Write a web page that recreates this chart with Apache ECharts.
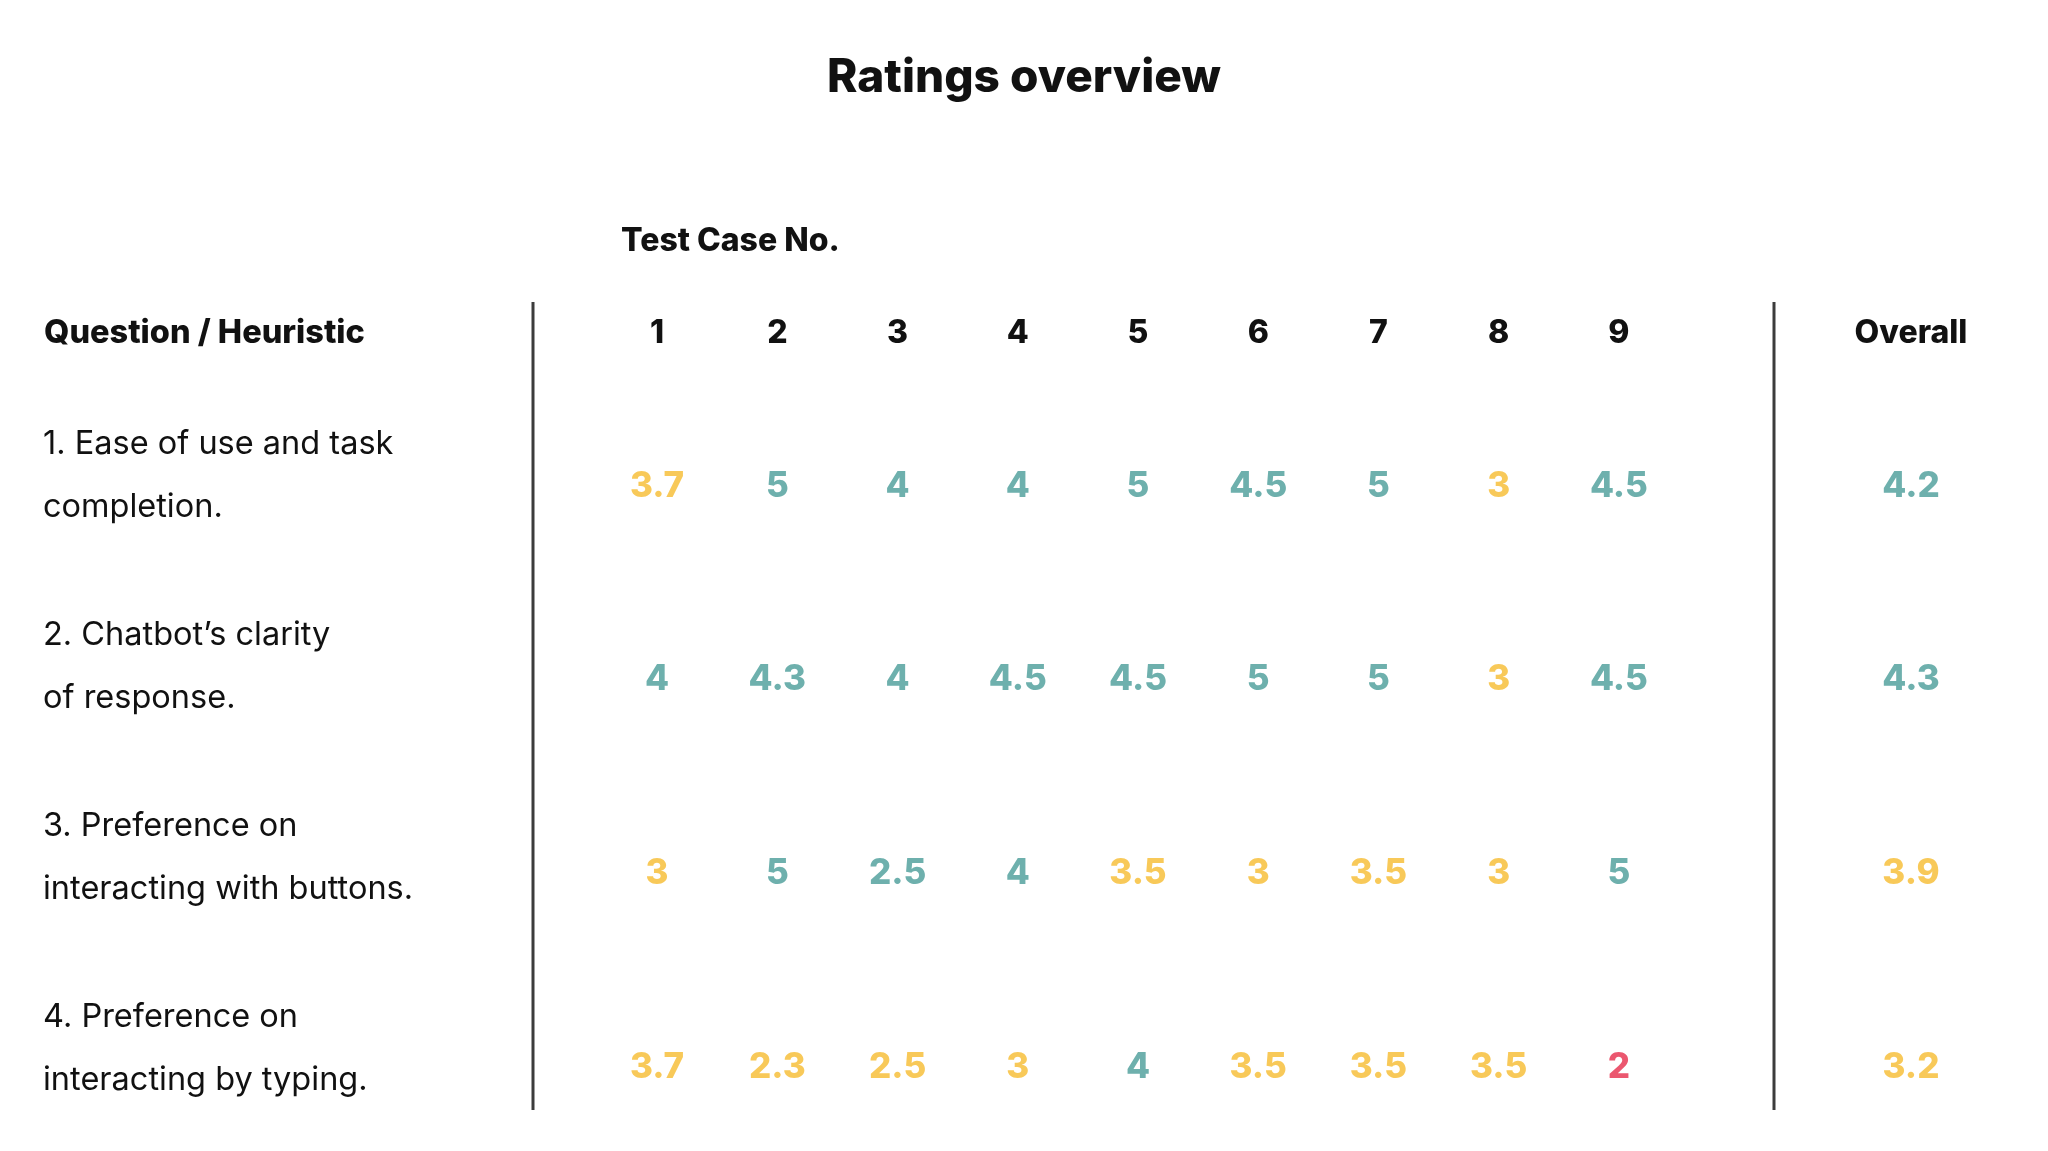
<!DOCTYPE html>
<html>
<head>
<meta charset="utf-8">
<title>Ratings overview</title>
<script src="https://cdn.jsdelivr.net/npm/echarts@6/dist/echarts.min.js"></script>
<style>
  html, body { margin: 0; padding: 0; background: #fff; }
  #chart { width: 2048px; height: 1151px; }
</style>
</head>
<body>
<div id="chart"></div>
<script>
// test case columns and question rows
var testCases = ['1', '2', '3', '4', '5', '6', '7', '8', '9'];
var questions = [
    '1. Ease of use and task\ncompletion.',
    '2. Chatbot\u2019s clarity\nof response.',
    '3. Preference on\ninteracting with buttons.',
    '4. Preference on\ninteracting by typing.'
];

// ratings per question, one value per test case
var easeOfUse = [3.7, 5, 4, 4, 5, 4.5, 5, 3, 4.5];
var clarity = [4, 4.3, 4, 4.5, 4.5, 5, 5, 3, 4.5];
var buttons = [3, 5, 2.5, 4, 3.5, 3, 3.5, 3, 5];
var typing = [3.7, 2.3, 2.5, 3, 4, 3.5, 3.5, 3.5, 2];
var overall = [4.2, 4.3, 3.9, 3.2];

// grade of each rating as marked in the table (G good, F fair, P poor)
var easeGrade = ['F', 'G', 'G', 'G', 'G', 'G', 'G', 'F', 'G'];
var clarityGrade = ['G', 'G', 'G', 'G', 'G', 'G', 'G', 'F', 'G'];
var buttonsGrade = ['F', 'G', 'G', 'G', 'F', 'F', 'F', 'F', 'G'];
var typingGrade = ['F', 'F', 'F', 'F', 'G', 'F', 'F', 'F', 'P'];
var overallGrade = ['G', 'G', 'F', 'F'];

var gradeColor = { G: '#4a9c98', F: '#f6bb2f', P: '#e62d4b' };
var fontFam = 'Inter';

var rows = [easeOfUse, clarity, buttons, typing];
var rowGrades = [easeGrade, clarityGrade, buttonsGrade, typingGrade];

var cells = [];
rows.forEach(function (vals, r) {
    vals.forEach(function (v, c) {
        cells.push({
            value: [c, r, v],
            label: { color: gradeColor[rowGrades[r][c]] }
        });
    });
});
var overallCells = overall.map(function (v, r) {
    return { value: [0, r, v], label: { color: gradeColor[overallGrade[r]] } };
});

var chart = echarts.init(document.getElementById('chart'));

var valueLabel = {
    show: true,
    position: 'inside',
    fontFamily: fontFam,
    fontWeight: 800,
    fontSize: 35,
    formatter: function (p) { return p.value[2]; }
};
var headLabel = {
    fontFamily: fontFam,
    fontWeight: 800,
    fontSize: 32,
    color: '#111',
    verticalAlign: 'middle',
    margin: 153
};
var hidden = { show: false };

var option = {
    backgroundColor: '#fff',
    animation: false,
    title: [
        {
            text: 'Ratings overview',
            left: 'center',
            top: 50,
            textStyle: { fontFamily: fontFam, fontWeight: 800, fontSize: 46, color: '#111' }
        },
        {
            text: 'Test Case No.',
            left: 616,
            top: 220,
            textStyle: { fontFamily: fontFam, fontWeight: 800, fontSize: 32, color: '#111' }
        },
        {
            text: 'Question / Heuristic',
            left: 39,
            top: 312,
            textStyle: { fontFamily: fontFam, fontWeight: 800, fontSize: 32.5, color: '#111' }
        }
    ],
    grid: [
        { left: 597, width: 1082, top: 486, height: 581 },
        { left: 1774, width: 280, top: 486, height: 581 },
        // question labels sit slightly above the rating row
        { left: 597, width: 1082, top: 476, height: 573 }
    ],
    xAxis: [
        {
            type: 'category', gridIndex: 0, position: 'top', data: testCases,
            axisLine: hidden, axisTick: hidden, splitLine: hidden,
            axisLabel: headLabel
        },
        {
            type: 'category', gridIndex: 1, position: 'top', data: ['Overall'],
            axisLine: hidden, axisTick: hidden, splitLine: hidden,
            axisLabel: headLabel
        },
        {
            type: 'category', gridIndex: 2, data: testCases, show: false
        }
    ],
    yAxis: [
        {
            type: 'category', gridIndex: 0, inverse: true, boundaryGap: false, data: questions,
            axisLine: hidden, axisTick: hidden, splitLine: hidden, axisLabel: hidden
        },
        {
            type: 'category', gridIndex: 1, inverse: true, boundaryGap: false, data: questions,
            axisLine: hidden, axisTick: hidden, splitLine: hidden, axisLabel: hidden
        },
        {
            type: 'category', gridIndex: 2, inverse: true, boundaryGap: false, data: questions,
            axisLine: hidden, axisTick: hidden, splitLine: hidden,
            axisLabel: {
                align: 'left',
                margin: 554,
                fontFamily: fontFam,
                fontSize: 32.5,
                lineHeight: 63,
                color: '#111'
            }
        }
    ],
    series: [
        {
            type: 'scatter', xAxisIndex: 0, yAxisIndex: 0,
            symbolSize: 0, data: cells, label: valueLabel
        },
        {
            type: 'scatter', xAxisIndex: 1, yAxisIndex: 1,
            symbolSize: 0, data: overallCells, label: valueLabel
        }
    ],
    graphic: [
        { type: 'line', shape: { x1: 533, y1: 302, x2: 533, y2: 1110 }, style: { stroke: '#3c3c3c', lineWidth: 3 } },
        { type: 'line', shape: { x1: 1774, y1: 302, x2: 1774, y2: 1110 }, style: { stroke: '#3c3c3c', lineWidth: 3 } }
    ]
};

chart.setOption(option);
</script>
</body>
</html>
